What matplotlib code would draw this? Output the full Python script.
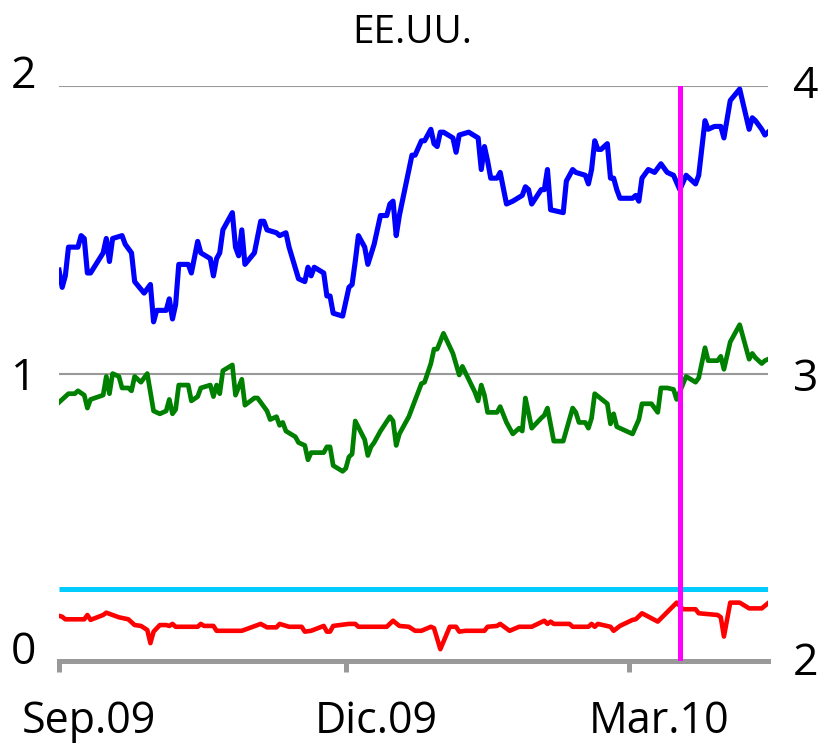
import matplotlib
matplotlib.use("Agg")
import matplotlib.pyplot as plt
import pandas as pd

plt.rcParams['font.family'] = ['Open Sans', 'DejaVu Sans']
plt.rcParams['font.weight'] = 'medium'

START = pd.Timestamp("2009-09-01")
END = pd.Timestamp("2010-04-14")

# days since 1 Sep 2009
blue_days = [0, 1, 2, 3, 6, 7, 8, 9, 10, 14, 15, 16, 17, 20, 21, 23, 24, 27, 29, 30,
             31, 34, 35, 36, 37, 38, 41, 42, 44, 45, 48, 49, 50, 51, 52, 55, 56, 57, 58, 59,
             62, 64, 65, 66, 69, 70, 72, 73, 76, 78, 79, 80, 81, 84, 85, 86, 87, 90, 92, 93,
             94, 95, 97, 98, 100, 101, 102, 104, 105, 106, 107, 108, 112, 113, 115, 116, 118, 119, 120, 121,
             122, 125, 126, 127, 130, 133, 134, 135, 136, 137, 139, 140, 142, 144, 147, 148, 149, 150, 153, 154,
             155, 156, 160, 161, 163, 164, 167, 168, 169, 170, 171, 172, 174, 175, 176, 177, 178, 182, 183, 184,
             185, 187, 189, 191, 193, 195, 197, 199, 202, 203, 205, 206, 208, 210, 211, 213, 216, 219, 220, 221,
             223, 224, 225]
blue_vals = [3.36, 3.30, 3.34, 3.44, 3.44, 3.48, 3.47, 3.35, 3.35, 3.42, 3.47, 3.39, 3.47, 3.48, 3.45, 3.42, 3.32, 3.28, 3.31, 3.18,
             3.22, 3.22, 3.26, 3.19, 3.24, 3.38, 3.38, 3.35, 3.46, 3.42, 3.40, 3.34, 3.40, 3.42, 3.50, 3.56, 3.44, 3.41, 3.50, 3.38,
             3.42, 3.53, 3.53, 3.50, 3.49, 3.48, 3.49, 3.44, 3.33, 3.32, 3.37, 3.34, 3.37, 3.35, 3.27, 3.27, 3.21, 3.20, 3.30, 3.31,
             3.39, 3.48, 3.44, 3.38, 3.45, 3.50, 3.55, 3.55, 3.59, 3.60, 3.48, 3.55, 3.76, 3.76, 3.81, 3.81, 3.85, 3.80, 3.79, 3.84,
             3.84, 3.82, 3.77, 3.83, 3.84, 3.82, 3.71, 3.79, 3.74, 3.68, 3.68, 3.70, 3.59, 3.60, 3.62, 3.65, 3.64, 3.59, 3.64, 3.64,
             3.71, 3.57, 3.56, 3.67, 3.71, 3.70, 3.69, 3.66, 3.71, 3.81, 3.78, 3.78, 3.80, 3.68, 3.68, 3.64, 3.61, 3.61, 3.62, 3.60,
             3.68, 3.71, 3.70, 3.73, 3.70, 3.69, 3.64, 3.69, 3.66, 3.69, 3.88, 3.85, 3.86, 3.86, 3.82, 3.95, 3.99, 3.85, 3.89, 3.88,
             3.85, 3.83, 3.84]

green_days = [0, 1, 3, 5, 6, 8, 9, 10, 14, 15, 16, 17, 19, 20, 22, 23, 24, 26, 28, 30,
              32, 34, 35, 36, 37, 38, 41, 42, 44, 45, 48, 49, 50, 51, 52, 55, 56, 58, 59, 62,
              63, 66, 67, 69, 70, 71, 72, 75, 76, 78, 79, 80, 84, 85, 86, 87, 90, 91, 92, 93,
              94, 97, 98, 99, 100, 102, 105, 106, 107, 108, 111, 115, 116, 118, 119, 120, 122, 125, 127, 128,
              130, 132, 133, 134, 135, 136, 139, 140, 142, 144, 146, 147, 148, 150, 153, 154, 155, 157, 160, 163,
              164, 165, 167, 168, 169, 170, 174, 175, 176, 177, 182, 184, 185, 188, 190, 191, 193, 195, 196, 199,
              202, 203, 205, 206, 209, 210, 211, 213, 216, 219, 220, 221, 223, 224, 225]
green_vals = [0.90, 0.91, 0.93, 0.93, 0.94, 0.925, 0.88, 0.91, 0.925, 0.99, 0.93, 1.00, 0.99, 0.95, 0.95, 0.94, 0.99, 0.97, 1.00, 0.87,
              0.86, 0.87, 0.91, 0.86, 0.875, 0.96, 0.96, 0.905, 0.92, 0.95, 0.96, 0.92, 0.96, 0.93, 1.01, 1.03, 0.925, 0.98, 0.89, 0.915,
              0.915, 0.87, 0.84, 0.85, 0.82, 0.83, 0.80, 0.78, 0.76, 0.75, 0.70, 0.725, 0.725, 0.745, 0.745, 0.68, 0.66, 0.67, 0.71, 0.72,
              0.835, 0.77, 0.715, 0.745, 0.76, 0.80, 0.85, 0.835, 0.75, 0.79, 0.85, 0.965, 0.97, 1.035, 1.085, 1.085, 1.14, 1.07, 0.995, 1.025,
              0.98, 0.935, 0.905, 0.96, 0.925, 0.865, 0.865, 0.885, 0.83, 0.79, 0.81, 0.80, 0.915, 0.81, 0.845, 0.855, 0.88, 0.765, 0.765, 0.88,
              0.865, 0.83, 0.83, 0.81, 0.845, 0.93, 0.895, 0.825, 0.86, 0.815, 0.79, 0.84, 0.895, 0.895, 0.865, 0.95, 0.95, 0.945, 0.91, 0.99,
              0.97, 0.985, 1.09, 1.045, 1.045, 1.06, 1.015, 1.11, 1.17, 1.05, 1.07, 1.055, 1.035, 1.045, 1.05]

red_days = [0, 1, 2, 8, 9, 10, 14, 15, 17, 19, 22, 24, 26, 28, 29, 30, 32, 34, 35, 36,
            37, 44, 45, 46, 49, 50, 58, 61, 64, 66, 69, 70, 73, 77, 78, 80, 84, 85, 86, 87,
            92, 94, 95, 104, 106, 108, 111, 113, 115, 118, 119, 121, 124, 126, 127, 129, 135, 136, 139, 140,
            143, 146, 150, 154, 155, 156, 157, 162, 163, 168, 169, 170, 171, 175, 176, 178, 182, 183, 185, 190,
            196, 198, 202, 203, 209, 210, 211, 213, 216, 219, 223, 225]
red_vals = [0.157, 0.154, 0.145, 0.145, 0.160, 0.143, 0.160, 0.168, 0.160, 0.152, 0.145, 0.125, 0.122, 0.108, 0.062, 0.102, 0.125, 0.125, 0.122, 0.129,
            0.119, 0.119, 0.129, 0.122, 0.122, 0.105, 0.105, 0.117, 0.129, 0.117, 0.117, 0.129, 0.119, 0.119, 0.102, 0.105, 0.122, 0.102, 0.102, 0.122,
            0.129, 0.129, 0.119, 0.119, 0.140, 0.122, 0.119, 0.105, 0.105, 0.119, 0.114, 0.041, 0.119, 0.119, 0.102, 0.105, 0.105, 0.119, 0.122, 0.129,
            0.105, 0.119, 0.119, 0.140, 0.129, 0.137, 0.129, 0.129, 0.119, 0.119, 0.129, 0.119, 0.129, 0.119, 0.105, 0.122, 0.143, 0.145, 0.166, 0.137,
            0.203, 0.180, 0.180, 0.166, 0.160, 0.152, 0.085, 0.203, 0.203, 0.183, 0.183, 0.201]

target_rate = 0.25
event_date = "2010-03-17"

x_ticks = ["2009-09-01", "2009-12-01", "2010-03-01"]
x_labels = ["Sep.09", "Dic.09", "Mar.10"]
left_ticks = [0, 1, 2]
right_ticks = [2, 3, 4]


def to_dates(days):
    return START + pd.to_timedelta(days, unit="D")


fig = plt.figure(figsize=(8.21, 7.43), dpi=100)
ax = fig.add_axes([0.0719, 0.1104, 0.8636, 0.7736])
ax2 = ax.twinx()

grey = "#999999"
ax.plot([START, END], [target_rate, target_rate], color="#00CCFF", lw=3.6, solid_capstyle="butt")
ax.plot(to_dates(red_days), red_vals, color="#FF0000", lw=3.3)
ax.plot(to_dates(green_days), green_vals, color="#008000", lw=3.4)
ax2.plot(to_dates(blue_days), blue_vals, color="#0000FF", lw=3.7)
ax2.axvline(pd.Timestamp(event_date), color="#FF00FF", lw=3.6, zorder=5)

for a, lim, ticks in [(ax, (0, 2), left_ticks), (ax2, (2, 4), right_ticks)]:
    a.set_ylim(*lim)
    a.set_yticks(ticks)
    a.set_xlim(START, END)
    for s in a.spines.values():
        s.set_visible(False)

for y in left_ticks[1:]:
    ax.axhline(y, color=grey, lw=1.5, zorder=0)

ax.spines["bottom"].set_visible(True)
ax.spines["bottom"].set_color(grey)
ax.spines["bottom"].set_linewidth(3.6)

ax.tick_params(axis="y", length=0, labelleft=False)
ax2.tick_params(axis="y", length=0, labelright=False)
ax.set_xticks(pd.to_datetime(x_ticks))
ax.tick_params(axis="x", length=8, width=3.6, color=grey, labelbottom=False)

# y labels: baseline shift in pixels below each tick value
left_shift = [3, 16, 2]
right_shift = [14, 17, 12]
for t, dy in zip(left_ticks, left_shift):
    ax.annotate(str(t), xy=(0, t), xycoords=("axes fraction", "data"),
                xytext=(-23, -dy), textcoords="offset pixels",
                ha="right", va="baseline", fontsize=32)
for t, dy in zip(right_ticks, right_shift):
    ax2.annotate(str(t), xy=(1, t), xycoords=("axes fraction", "data"),
                 xytext=(25, -dy), textcoords="offset pixels",
                 ha="left", va="baseline", fontsize=32)

for d, lab in zip(x_ticks, x_labels):
    ax.annotate(lab, xy=(pd.Timestamp(d), 0), xycoords=("data", "axes fraction"),
                xytext=(30, -72), textcoords="offset pixels",
                ha="center", va="baseline", fontsize=31)

fig.text(0.5025, 1 - 43 / 743, "EE.UU.", ha="center", va="baseline", fontsize=28)

fig.savefig("out.png", dpi=100)
